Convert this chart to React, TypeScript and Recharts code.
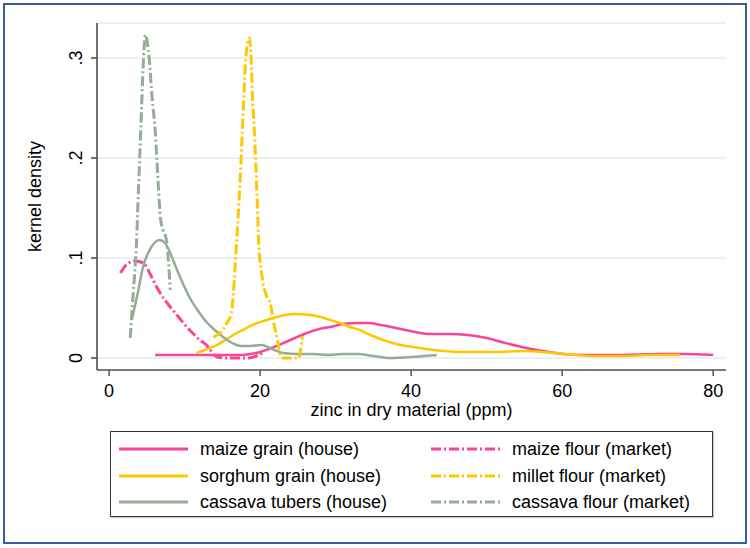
import React from "react";
import { CartesianGrid, Legend, Line, LineChart, XAxis, YAxis } from "recharts";

type Pt = { v: number; d: number };
const pts = (rows: number[][]): Pt[] => rows.map(([v, d]) => ({ v, d }));

// zinc (ppm) -> kernel density
const maizeGrain = pts([
  [6.1, 0.003], [8, 0.003], [10, 0.003], [12, 0.003], [14, 0.003], [16, 0.003], [17.4, 0.003],
  [18.7, 0.004], [20, 0.006], [21.5, 0.01], [23.1, 0.015], [24.6, 0.02], [26.2, 0.025], [27.8, 0.029],
  [29.3, 0.031], [31, 0.034], [32.8, 0.035], [34.5, 0.035], [36, 0.033], [38, 0.03], [39.9, 0.027],
  [42.5, 0.024], [45.2, 0.024], [47.5, 0.023], [50, 0.02], [52.5, 0.015], [55.3, 0.01], [57.5, 0.007],
  [60.2, 0.004], [62.8, 0.003], [66, 0.003], [70, 0.0035], [73, 0.004], [76, 0.004], [80, 0.003],
]);
const sorghumGrain = pts([
  [11.6, 0.005], [13, 0.009], [14.3, 0.013], [15.6, 0.019], [16.9, 0.025], [18.2, 0.03], [19.6, 0.035],
  [20.9, 0.038], [22.2, 0.041], [24.4, 0.044], [26.6, 0.043], [28, 0.041], [29.3, 0.038], [30.6, 0.035],
  [31.9, 0.031], [33.2, 0.028], [34.6, 0.023], [36.3, 0.018], [38, 0.014], [40.3, 0.011], [42, 0.009],
  [44.3, 0.007], [47, 0.006], [50.9, 0.006], [53, 0.0065], [55.3, 0.007], [57.5, 0.006], [60.2, 0.004],
  [62, 0.003], [64.1, 0.002], [68, 0.002], [72, 0.003], [75.6, 0.003],
]);
const cassavaTubers = pts([
  [3.0, 0.038], [3.8, 0.065], [4.5, 0.091], [5.6, 0.111], [6.7, 0.118], [7.4, 0.115], [8.1, 0.105],
  [9.0, 0.088], [9.8, 0.074], [10.7, 0.06], [11.8, 0.047], [12.9, 0.036], [14.0, 0.028], [15.1, 0.021],
  [16.3, 0.015], [17.4, 0.012], [18.7, 0.012], [20.2, 0.013], [21.3, 0.01], [22.2, 0.007], [23.1, 0.005],
  [25, 0.004], [27, 0.004], [29, 0.003], [31, 0.004], [33, 0.004], [35, 0.002], [37.2, 0.0], [40.1, 0.001],
  [41.7, 0.002], [43.4, 0.003],
]);
const maizeFlour = pts([
  [1.5, 0.085], [2.4, 0.094], [3.4, 0.097], [4.2, 0.096], [4.8, 0.093], [5.5, 0.083], [6.3, 0.071],
  [7.2, 0.06], [8.1, 0.051], [9.2, 0.041], [10.3, 0.031], [11.2, 0.024], [12.0, 0.018], [12.9, 0.013],
  [13.6, 0.006], [14.3, 0.001], [15.5, 0.0], [17, 0.0], [18.5, 0.0], [19.5, 0.002], [20.5, 0.006],
]);
const milletFlour = pts([
  [13.8, 0.021], [14.7, 0.025], [15.6, 0.035], [16.2, 0.045], [16.6, 0.08], [16.9, 0.118], [17.3, 0.17],
  [17.6, 0.218], [17.9, 0.27], [18.1, 0.3], [18.6, 0.32], [18.8, 0.3], [19.0, 0.26], [19.3, 0.218],
  [19.6, 0.16], [19.8, 0.118], [20.2, 0.085], [20.9, 0.061], [21.3, 0.056], [21.8, 0.035], [22.3, 0.018],
  [22.6, 0.005], [23, 0.0], [24, 0.0], [25.1, 0.0], [25.6, 0.022],
]);
const cassavaFlour = pts([
  [2.8, 0.02], [3.2, 0.065], [3.6, 0.11], [3.9, 0.17], [4.2, 0.228], [4.5, 0.29], [4.8, 0.323],
  [5.3, 0.3], [5.7, 0.26], [6.1, 0.228], [6.5, 0.175], [6.8, 0.14], [7.15, 0.128], [7.6, 0.118], [8.1, 0.068],
]);

const xTicks = [0, 20, 40, 60, 80];
const yTicks = [0, 0.1, 0.2, 0.3];

const PINK = "#f8449a";
const GOLD = "#fdc800";
const SAGE = "#94ad94";
const DASHDOT = "10 3 2 3";
const FONT = "'Liberation Sans', Arial, sans-serif";

const series = [
  { name: "maize grain (house)", data: maizeGrain, color: PINK, dash: undefined },
  { name: "sorghum grain (house)", data: sorghumGrain, color: GOLD, dash: undefined },
  { name: "cassava tubers (house)", data: cassavaTubers, color: SAGE, dash: undefined },
  { name: "maize flour (market)", data: maizeFlour, color: PINK, dash: DASHDOT },
  { name: "millet flour (market)", data: milletFlour, color: GOLD, dash: DASHDOT },
  { name: "cassava flour (market)", data: cassavaFlour, color: SAGE, dash: DASHDOT },
];

function YTick(props: any) {
  const { x, y, payload } = props;
  const v = payload.value;
  const label = v === 0 ? "0" : "." + Math.round(v * 10);
  return (
    <text transform={`translate(${x},${y}) rotate(-90)`} textAnchor="middle" fontSize={18} fill="#000" fontFamily={FONT}>
      {label}
    </text>
  );
}

function LegendBox() {
  const rowY = [17, 44, 70];
  return (
    <div style={{ width: 603, height: 86, boxSizing: "border-box", border: "1px solid #333", background: "#fff", boxShadow: "1px 1px 1px #ccc" }}>
      <svg width={601} height={84}>
        {series.map((s, i) => {
          const col = i < 3 ? 0 : 1;
          const y = rowY[i % 3];
          const x0 = col === 0 ? 8 : 320;
          return (
            <g key={s.name}>
              <line x1={x0} x2={x0 + 69} y1={y} y2={y} stroke={s.color} strokeWidth={3} strokeDasharray={s.dash} />
              <text x={x0 + 81} y={y + 6} fontSize={18} fill="#000" fontFamily={FONT}>
                {s.name}
              </text>
            </g>
          );
        })}
      </svg>
    </div>
  );
}

export default function App() {
  return (
    <div style={{ position: "fixed", left: 0, top: 0, width: 750, height: 548, background: "#fff" }}>
      <div style={{ position: "absolute", left: 3, top: 3, width: 744, height: 541, boxSizing: "border-box", border: "2px solid #3c5c98" }} />
      <div style={{ position: "absolute", left: 0, top: 0 }}>
        <LineChart width={750} height={548} margin={{ left: 57, right: 24, top: 23, bottom: 148 }}>
          <CartesianGrid vertical={false} stroke="#e3eded" strokeWidth={1.5} />
          <XAxis
            type="number"
            dataKey="v"
            domain={[-1.6, 81.7]}
            ticks={xTicks}
            allowDataOverflow
            height={30}
            tickSize={6}
            tickMargin={8}
            stroke="#555"
            strokeWidth={1.5}
            tick={{ fontSize: 18, fill: "#000", fontFamily: FONT }}
            label={{ value: "zinc in dry material (ppm)", position: "bottom", offset: 3, fontSize: 18, fill: "#000", fontFamily: FONT }}
          />
          <YAxis
            type="number"
            domain={[-0.012, 0.335]}
            ticks={yTicks}
            allowDataOverflow
            width={40}
            tickSize={6}
            tickMargin={9}
            stroke="#444"
            strokeWidth={1.5}
            tick={<YTick />}
            label={{
              content: (p: any) => {
                const vb = p.viewBox || { x: 57, y: 23, width: 40, height: 347 };
                return (
                  <text transform={`translate(${vb.x - 16},${vb.y + vb.height / 2}) rotate(-90)`} textAnchor="middle" fontSize={18} fill="#000" fontFamily={FONT}>
                    kernel density
                  </text>
                );
              },
            }}
          />
          {series.map((s) => (
            <Line
              key={s.name}
              data={s.data}
              dataKey="d"
              name={s.name}
              type="monotone"
              stroke={s.color}
              strokeWidth={s.dash ? 3 : 2.5}
              strokeDasharray={s.dash}
              dot={false}
              activeDot={false}
              isAnimationActive={false}
            />
          ))}
          <Legend
            verticalAlign="middle"
            layout="horizontal"
            wrapperStyle={{ left: 110, top: 431, width: 603, height: 86 }}
            content={() => <LegendBox />}
          />
        </LineChart>
      </div>
    </div>
  );
}
